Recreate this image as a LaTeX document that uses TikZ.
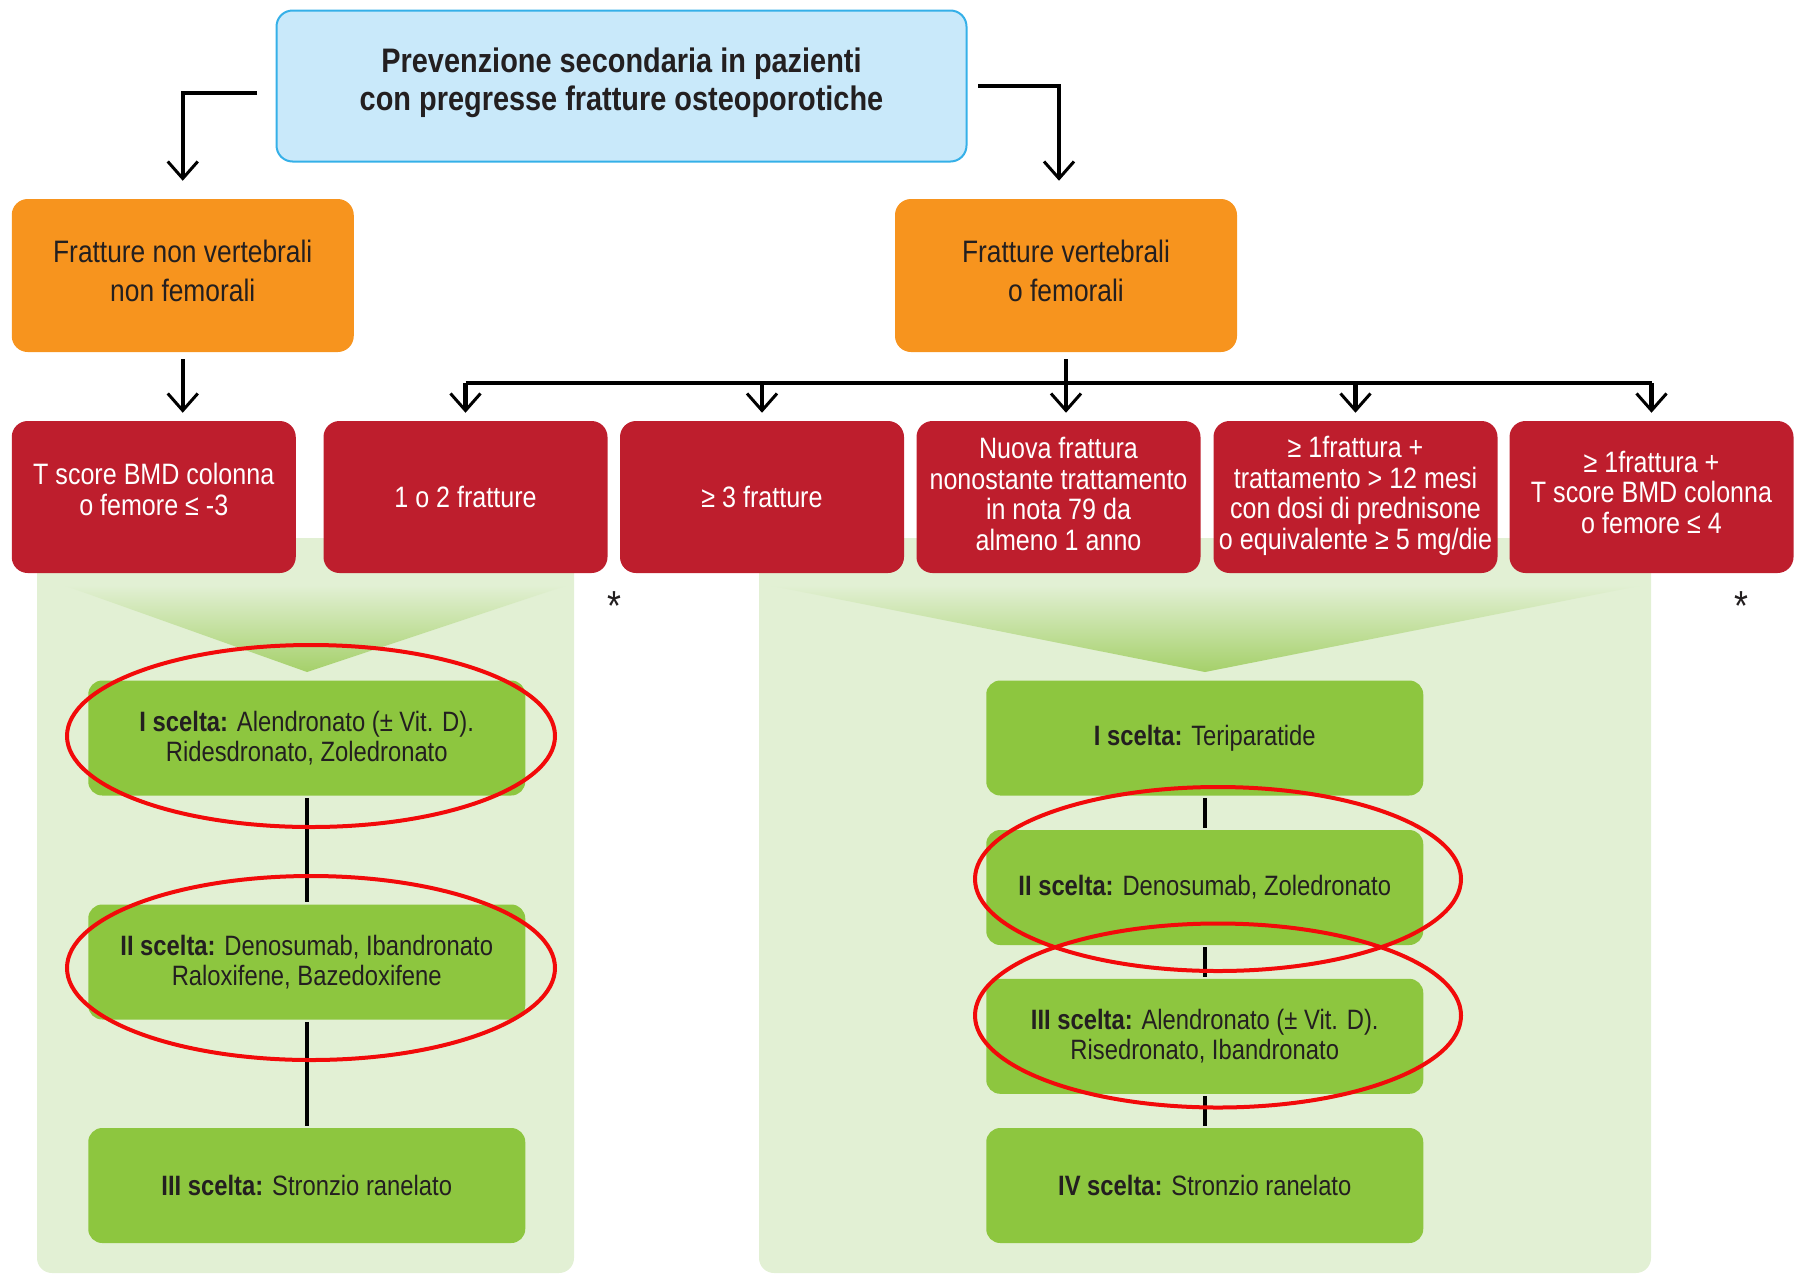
\documentclass[tikz,border=0pt]{standalone}
\usepackage{fontspec}
\setmainfont{Liberation Sans}[FakeStretch=0.85]
\usetikzlibrary{arrows.meta}

\definecolor{skyfill}{HTML}{C9E9FA}
\definecolor{skyline}{HTML}{35B0E8}
\definecolor{orangebox}{HTML}{F7941E}
\definecolor{redbox}{HTML}{BE1E2D}
\definecolor{greenbox}{HTML}{8DC63F}
\definecolor{panelgreen}{HTML}{E2F0D4}
\definecolor{chevgreen}{HTML}{A5D06A}
\definecolor{inktext}{HTML}{231F20}
\definecolor{ringred}{HTML}{F20A0A}

\begin{document}
\begin{tikzpicture}[x=1pt, y=-1pt, line width=4.5pt,
  arr/.style={-{Straight Barb[length=17pt,width=30pt,line width=3pt]}},
  titlebox/.style={draw=skyline, fill=skyfill, line width=2pt, rounded corners=16pt,
    minimum width=690pt, minimum height=151pt, align=center, text=inktext, text depth=13pt,
    font=\fontsize{34}{38}\selectfont\bfseries},
  groupbox/.style={fill=orangebox, rounded corners=16pt, minimum width=342pt,
    minimum height=153pt, align=center, text=inktext, text depth=9pt,
    font=\fontsize{31}{38.5}\selectfont},
  critbox/.style={fill=redbox, rounded corners=16pt, minimum width=284pt,
    minimum height=152pt, inner sep=1pt, align=center, text=white,
    font=\fontsize{29.5}{30.5}\selectfont},
  choicebox/.style={fill=greenbox, rounded corners=14pt, minimum width=437pt,
    minimum height=115pt, align=center, text=inktext, font=\fontsize{28}{30.5}\selectfont},
  ring/.style={draw=ringred, line width=4pt},
  star/.style={font=\fontsize{42}{42}\selectfont, text=inktext}]
\useasboundingbox (0,0) rectangle (1795,1275);

% pale panels with the fading chevrons behind the choices
\fill[panelgreen, rounded corners=15pt] (37,538) rectangle (574,1273);
\fill[panelgreen, rounded corners=15pt] (759,538) rectangle (1651,1273);
\shade[top color=panelgreen, bottom color=chevgreen] (63,585) -- (568,585) -- (307,672) -- cycle;
\shade[top color=panelgreen, bottom color=chevgreen] (767,585) -- (1644,585) -- (1205,672) -- cycle;

\node[titlebox] (prev) at (621.5,86) {Prevenzione secondaria in pazienti\\con pregresse fratture osteoporotiche};
\node[groupbox] (onv) at (182.75,275.5) {Fratture non vertebrali\\non femorali};
\node[groupbox] (ovf) at (1066,275.5) {Fratture vertebrali\\o femorali};

\node[critbox, text depth=15pt] (c1) at (153.75,497) {T score BMD colonna\\o femore ≤ -3};
\node[critbox] (c2) at (465.5,497) {1 o 2 fratture};
\node[critbox] (c3) at (762,497) {≥ 3 fratture};
\node[critbox, text depth=6pt] (c4) at (1058.5,497) {Nuova frattura\\nonostante trattamento\\in nota 79 da\\almeno 1 anno};
\node[critbox, text depth=8pt] (c5) at (1355.5,497) {≥ 1frattura +\\trattamento > 12 mesi\\con dosi di prednisone\\o equivalente ≥ 5 mg/die};
\node[critbox, text depth=10pt] (c6) at (1651.5,497) {≥ 1frattura +\\T score BMD colonna\\o femore ≤ 4};

\node[star] (ast1) at (614,606) {*};
\node[star] (ast2) at (1741,606) {*};

\node[choicebox] (lsc1) at (306.75,738) {\textbf{I scelta:} Alendronato (± Vit. D).\\Ridesdronato, Zoledronato};
\node[choicebox] (lsc2) at (306.75,962) {\textbf{II scelta:} Denosumab, Ibandronato\\Raloxifene, Bazedoxifene};
\node[choicebox] (lsc3) at (306.75,1185.5) {\textbf{III scelta:} Stronzio ranelato};
\node[choicebox] (rsc1) at (1204.75,738) {\textbf{I scelta:} Teriparatide};
\node[choicebox] (rsc2) at (1204.75,887.5) {\textbf{II scelta:} Denosumab, Zoledronato};
\node[choicebox] (rsc3) at (1204.75,1036.3) {\textbf{III scelta:} Alendronato (± Vit. D).\\Risedronato, Ibandronato};
\node[choicebox] (rsc4) at (1204.75,1185.5) {\textbf{IV scelta:} Stronzio ranelato};

\coordinate (tl) at (257,93);
\coordinate (tr) at (978,86);
\coordinate (bus) at (1066,383);

\draw[arr, shorten >=16pt] (tl) -| (onv.north);
\draw[arr, shorten >=16pt] (tr) -| ([xshift=-7pt]ovf.north);
\draw[arr, shorten <=5pt, shorten >=6pt] (onv.south) -- (onv.south |- c1.north);
\draw[arr, shorten <=5pt, shorten >=6pt] (ovf.south) -- (ovf.south |- c4.north);
\draw (c2.north |- bus) -- (c6.north |- bus);
\foreach \b in {c2,c3,c5,c6}
  \draw[arr, shorten >=6pt] (\b.north |- bus) -- (\b.north);

\draw (lsc1) -- (lsc2);
\draw (lsc2) -- (lsc3);
\draw (rsc1) -- (rsc2);
\draw (rsc2) -- (rsc3);
\draw (rsc3) -- (rsc4);

\draw[ring] (311,736) ellipse [x radius=244, y radius=91];
\draw[ring] (311,968) ellipse [x radius=244, y radius=92];
\draw[ring] (1218,879) ellipse [x radius=243, y radius=92];
\draw[ring] (1218,1015.5) ellipse [x radius=243, y radius=92];
\end{tikzpicture}
\end{document}
